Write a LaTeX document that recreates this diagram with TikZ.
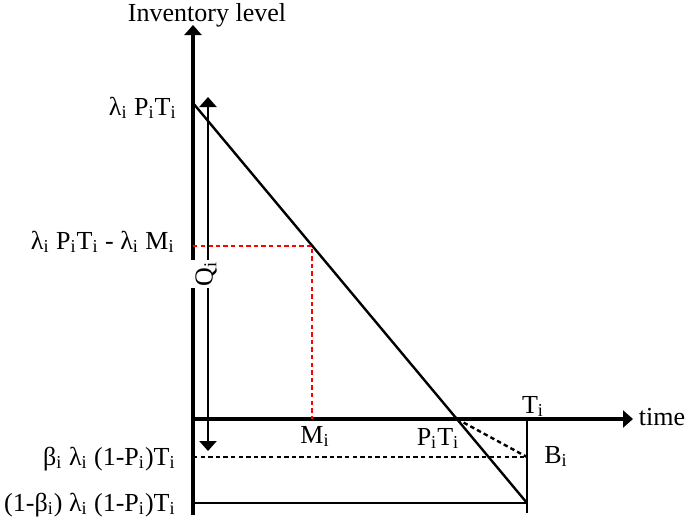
\documentclass[tikz,border=0pt]{standalone}
\usepackage{fontspec}
\setmainfont{Liberation Serif}
\usetikzlibrary{arrows.meta,positioning}
\newcommand{\lo}[1]{\textsubscript{#1}}

\begin{document}
\begin{tikzpicture}[
    x=0.5pt, y=-0.5pt,
    font=\fontsize{13}{15}\selectfont,
    axis/.style={line width=1.6pt, -{Triangle[length=5pt,width=8.5pt]}},
    level/.style={line width=1.2pt},
    redline/.style={red, line width=1.4pt, dash pattern=on 2.2pt off 1.6pt},
    dotline/.style={line width=1.2pt, dash pattern=on 2.2pt off 1.6pt},
    lbl/.style={inner sep=0pt, anchor=base},
    ylbl/.style={inner sep=0pt, anchor=base east}
]
\useasboundingbox (0,0) rectangle (689,521);

% Points
\coordinate (ybot) at (193,515);
\coordinate (ytop) at (193,25);
\coordinate (O) at (193,419);
\coordinate (xend) at (633,419);
\coordinate (top) at (193,103);
\coordinate (low) at (527,503);
\coordinate (cross) at (457,419);
\coordinate (Ttop) at (527,419);
\coordinate (Tbot) at (527,513);
\coordinate (B) at (527,457);
\coordinate (Bleft) at (193,457);
\coordinate (lowleft) at (193,503);
\coordinate (Mpt) at (312,246);
\coordinate (Mleft) at (193,246);
\coordinate (Mbot) at (312,419);
\coordinate (Qtop) at (208,97);
\coordinate (Qbot) at (208,451);

% Axes
\draw[axis] (ybot) -- (ytop);
\draw[axis] (O) -- (xend);

% Inventory lines
\draw[level] (top) -- (low);
\draw[level] (Ttop) -- (Tbot);
\draw[level] (lowleft) -- (low);
\draw[dotline] (Bleft) -- (B);
\draw[dotline] (cross) -- (B);

% M_i guide
\draw[redline] (Mleft) -- (Mpt) -- (Mbot);

% Q_i arrow
\draw[line width=1.3pt, {Triangle[length=5pt,width=8.5pt]}-{Triangle[length=5pt,width=8.5pt]}] (Qtop) -- (Qbot);
\node[rotate=90, fill=white, inner sep=1pt, minimum height=15pt] (Q) at (206,274) {Q\lo{i}};

% Axis labels
\node[lbl] (inv) at (207,21) {Inventory level};
\node[lbl] (time) at (662,425) {time};

% Level labels
\node[ylbl] (l1) at (177,115) {λ\lo{i} P\lo{i}T\lo{i}};
\node[ylbl] (l2) at (175,249) {λ\lo{i} P\lo{i}T\lo{i} - λ\lo{i} M\lo{i}};
\node[ylbl] (l3) at (176,465) {β\lo{i} λ\lo{i} (1-P\lo{i})T\lo{i}};
\node[ylbl] (l4) at (176,511) {(1-β\lo{i}) λ\lo{i} (1-P\lo{i})T\lo{i}};

% Time labels
\node[lbl] (Mi) at (315,443) {M\lo{i}};
\node[lbl] (Ti) at (533,413) {T\lo{i}};
\node[lbl] (PT) at (438,445) {P\lo{i}T\lo{i}};
\node[lbl] (Bi) at (556,463) {B\lo{i}};

\end{tikzpicture}
\end{document}
